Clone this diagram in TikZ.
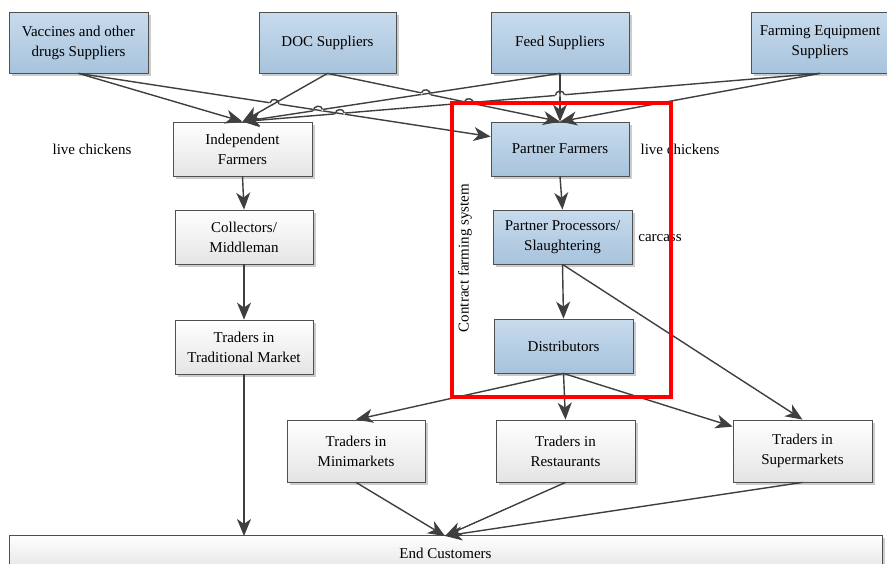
\documentclass[tikz,border=0pt]{standalone}
\usepackage{fontspec}
\setmainfont{Liberation Serif}
\usetikzlibrary{arrows.meta,shadows,calc}
\definecolor{bluetop}{HTML}{C8DBED}
\definecolor{bluebot}{HTML}{A7C3DC}
\definecolor{greytop}{HTML}{FFFFFF}
\definecolor{greybot}{HTML}{E4E4E4}
\definecolor{edgecol}{HTML}{3F3F3F}
\definecolor{framecol}{HTML}{505050}
\newcommand\hopover[4]{%
  \coordinate (hp) at (intersection of #1--#2 and #3--#4);
  \draw[white, line width=3pt] ($(hp)!5pt!(#1)$) -- ($(hp)!5pt!(#2)$);
  \draw[ln] ($(hp)!3.5pt!(#3)$) -- ($(hp)!3.5pt!(#4)$);
  \draw[ln] ($(hp)!4.5pt!(#1)$) to[bend left=90, looseness=1.5] ($(hp)!4.5pt!(#2)$);
}
\begin{document}
\begin{tikzpicture}[x=1pt,y=-1pt,
  txt/.style={font=\fontsize{15}{20}\selectfont, align=center},
  box/.style={txt, draw=framecol, line width=0.8pt, inner sep=2pt,
    drop shadow={shadow xshift=3pt, shadow yshift=-3pt, fill=black, opacity=0.2}},
  bluebox/.style={box, top color=bluetop, bottom color=bluebot},
  greybox/.style={box, top color=greytop, bottom color=greybot},
  ln/.style={draw=edgecol, line width=1.4pt},
  arr/.style={ln, -{Stealth[length=17pt, width=14pt, inset=5pt]}},
]
\useasboundingbox (0,0) rectangle (887,563);

% top suppliers
\node[bluebox, minimum width=139pt, minimum height=61pt] (vac) at (78.5,42.5) {Vaccines and other\\drugs Suppliers};
\node[bluebox, minimum width=137pt, minimum height=61pt] (doc) at (327.5,42.5) {DOC Suppliers};
\node[bluebox, minimum width=138pt, minimum height=61pt] (feed) at (560,42.5) {Feed Suppliers};
\node[bluebox, minimum width=138pt, minimum height=61pt] (equip) at (820,42.5) {Farming Equipment\\Suppliers};

% left chain
\node[greybox, minimum width=139pt, minimum height=54pt] (ind) at (242.5,149) {Independent\\Farmers};
\node[greybox, minimum width=138pt, minimum height=54pt] (col) at (244,237) {Collectors/\\Middleman};
\node[greybox, minimum width=138pt, minimum height=54pt] (trad) at (244,347) {Traders in\\Traditional Market};

% contract chain
\node[bluebox, minimum width=138pt, minimum height=54pt] (pf) at (560,149) {Partner Farmers};
\node[bluebox, minimum width=139pt, minimum height=54pt] (pp) at (562.5,237) {Partner Processors/\\Slaughtering};
\node[bluebox, minimum width=139pt, minimum height=54pt] (dist) at (563.5,346) {Distributors};

% retailers
\node[greybox, minimum width=138pt, minimum height=62pt] (mini) at (356,451) {Traders in\\Minimarkets};
\node[greybox, minimum width=139pt, minimum height=62pt] (rest) at (565.5,451) {Traders in\\Restaurants};
\node[greybox, minimum width=139pt, minimum height=62pt] (super) at (802.5,451) {Traders in\\Supermarkets};

\node[greybox, minimum width=873pt, minimum height=36pt, text depth=0pt] (endc) at (445.5,553) {End Customers};

% labels
\node[txt] (lc1) at (92,149) {live chickens};
\node[txt] (lc2) at (680,149) {live chickens};
\node[txt] (carc) at (660,238) {carcass};
\node[txt, rotate=90] (cfs) at (465,258) {Contract farming system};

% anchor coordinates
\coordinate (vacS) at (vac.south);
\coordinate (docS) at (doc.south);
\coordinate (feedS) at (feed.south);
\coordinate (eqS) at (equip.south);
\coordinate (indN) at (ind.north);
\coordinate (pfN) at (pf.north);
\coordinate (pfW) at ($(pf.north west)+(0,15)$);
\coordinate (superW) at ($(super.north west)+(0,7)$);
\coordinate (endN) at (445,536);
\coordinate (endL) at (244,536);

% supplier connectors
\draw[arr] (vacS) -- (indN);
\draw[arr] (vacS) -- (pfW);
\draw[arr] (docS) -- (indN);
\draw[arr] (docS) -- (pfN);
\draw[arr] (feedS) -- (indN);
\draw[arr] (feedS) -- (pfN);
\draw[arr] (eqS) -- (indN);
\draw[arr] (eqS) -- (pfN);

% line hops
\hopover{vacS}{pfW}{docS}{indN}
\hopover{indN}{feedS}{vacS}{pfW}
\hopover{indN}{eqS}{vacS}{pfW}
\hopover{docS}{pfN}{indN}{feedS}
\hopover{docS}{pfN}{indN}{eqS}
\hopover{indN}{eqS}{feedS}{pfN}

% chains
\draw[arr] (ind.south) -- (col.north);
\draw[arr] (col.south) -- (trad.north);
\draw[arr] (trad.south) -- (endL);
\draw[arr] (pf.south) -- (pp.north);
\draw[arr] (pp.south) -- (dist.north);
\draw[arr] (pp.south) -- (super.north);
\draw[arr] (dist.south) -- (mini.north);
\draw[arr] (dist.south) -- (rest.north);
\draw[arr] (dist.south) -- (superW);
\draw[arr] (mini.south) -- (endN);
\draw[arr] (rest.south) -- (endN);
\draw[arr] (super.south) -- (endN);

% contract farming frame
\draw[red, line width=4pt] (452,103) rectangle (671,397);
\end{tikzpicture}
\end{document}
